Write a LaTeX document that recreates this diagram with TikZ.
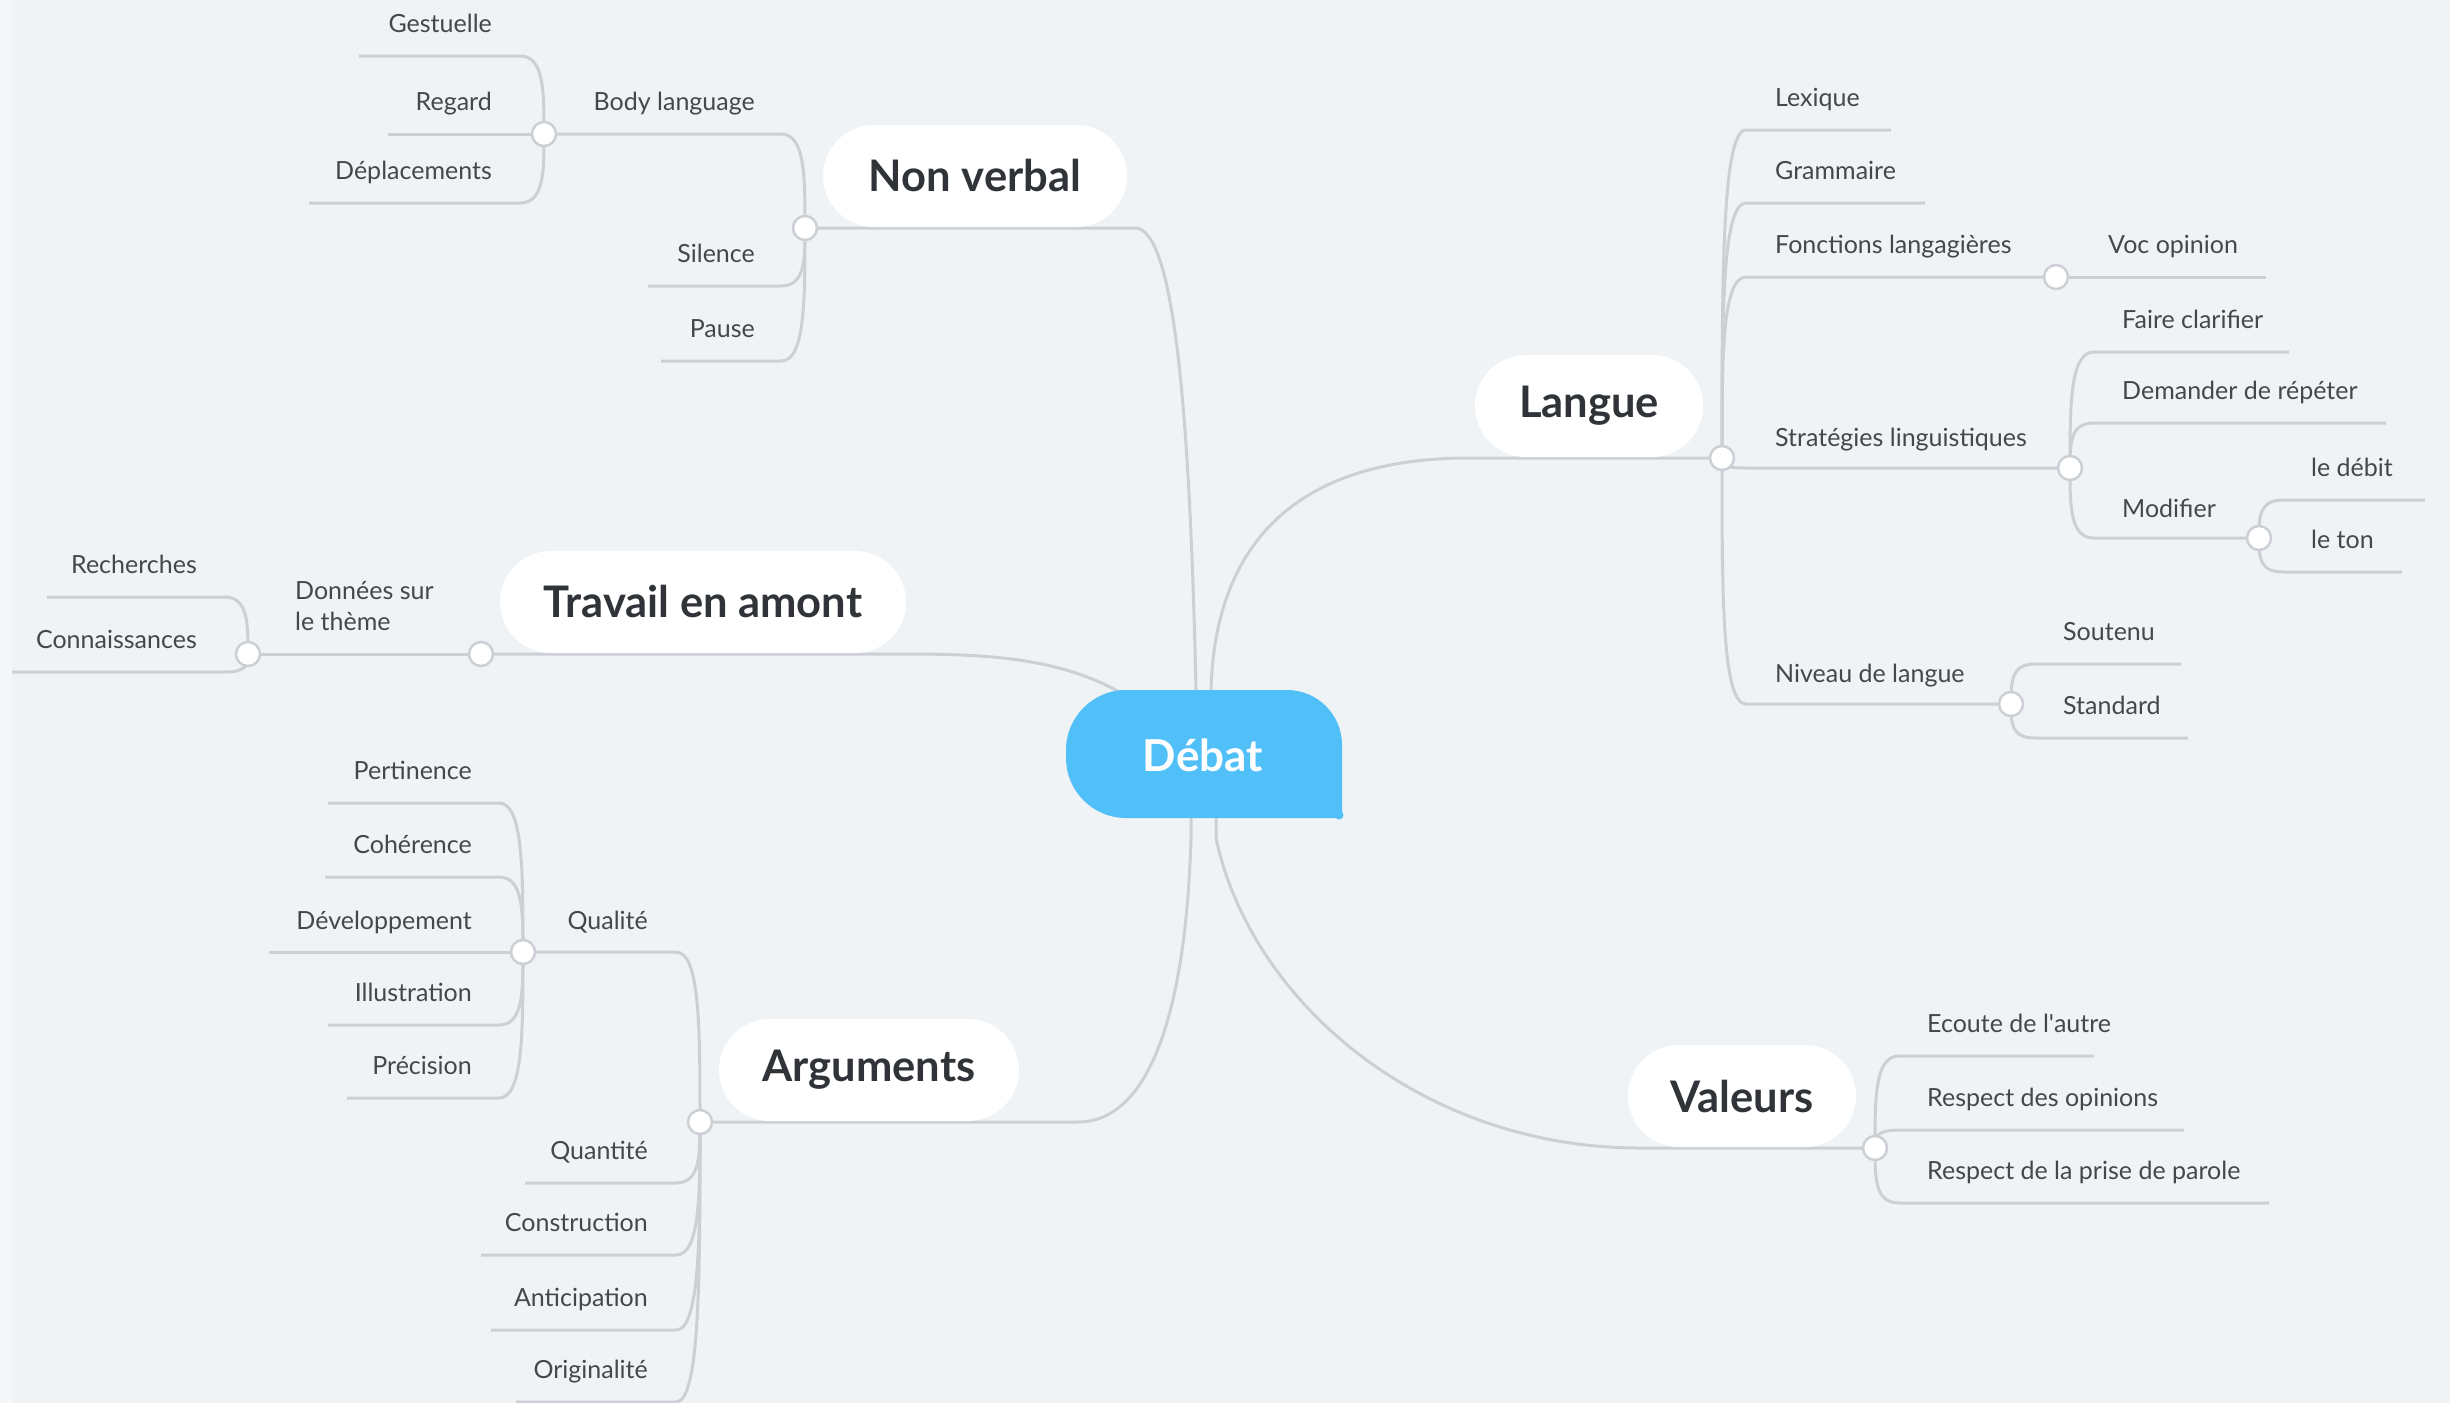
\documentclass[tikz,border=0pt]{standalone}
\usepackage{fontspec}
\setmainfont{Lato}
\usetikzlibrary{calc}
\pgfdeclarelayer{back}
\pgfdeclarelayer{lines}
\pgfsetlayers{back,lines,main}
\definecolor{bgc}{RGB}{239,243,246}
\definecolor{stripc}{RGB}{244,246,248}
\definecolor{lnc}{RGB}{204,208,212}
\definecolor{txc}{RGB}{68,72,77}
\definecolor{ttc}{RGB}{48,52,56}
\definecolor{blu}{RGB}{82,192,248}
\newcommand\branch[3]{\draw[conn] (#1.center) .. controls ($(#1.center)!0.55!(#1.center|-#2.center)$) and (#1.center|-#2.center) .. ($(#1.center|-#2.center)+(#3,0)$) -- (#2.center);}
\tikzset{
 conn/.style={draw=lnc, line width=3pt},
 jn/.style={circle, draw=lnc, fill=white, line width=2.5pt, minimum size=24pt, inner sep=0pt},
 topic/.style={fill=white, rounded corners=51pt, minimum height=102pt, inner sep=0pt, text=ttc, font=\fontsize{43.5}{52}\selectfont\bfseries},
 lbl/.style={inner sep=0pt, text=txc, font=\fontsize{25}{31}\selectfont},
 lblL/.style={lbl, anchor=base east},
 lblR/.style={lbl, anchor=base west},
}
\begin{document}
\begin{tikzpicture}[x=1pt,y=-1pt]
\useasboundingbox (0,0) rectangle (2450,1403);
\begin{pgfonlayer}{back}
\fill[bgc] (0,0) rectangle (2450,1403);
\fill[stripc] (0,0) rectangle (12,1403);
\end{pgfonlayer}

% central topic
\fill[blu] (1342,818) -- (1126,818) .. controls (1092.9,818) and (1066,791.1) .. (1066,758) -- (1066,750) .. controls (1066,716.9) and (1092.9,690) .. (1126,690) -- (1287,690) .. controls (1317.4,690) and (1342,714.6) .. (1342,745) -- cycle;
\fill[blu] (1339,815) circle (4.5);
\node[font=\fontsize{44}{52}\selectfont\bfseries, text=white] (deb) at (1203,755) {Débat};

% main topics
\node[topic, minimum width=304pt] (nv) at (975,176) {Non verbal};
\node[topic, minimum width=228pt] (la) at (1589,406) {Langue};
\node[topic, minimum width=406pt] (tr) at (703,602) {Travail en amont};
\node[topic, minimum width=300pt] (ar) at (869,1070) {Arguments};
\node[topic, minimum width=228pt] (va) at (1742,1096) {Valeurs};

% junctions
\node[jn] (nvj) at (805,228) {};
\node[jn] (blj) at (544,134) {};
\node[jn] (lj) at (1722,458) {};
\node[jn] (voj) at (2056,277) {};
\node[jn] (sj) at (2070,468) {};
\node[jn] (mj) at (2259,538) {};
\node[jn] (nj) at (2011,704) {};
\node[jn] (tj) at (481,654) {};
\node[jn] (dj) at (248,654) {};
\node[jn] (aj) at (700,1122) {};
\node[jn] (qj) at (523,952) {};
\node[jn] (vj) at (1875,1148) {};

% line ends
\coordinate (silE) at (648,286);
\coordinate (pauE) at (661,361);
\coordinate (gesE) at (359,56);
\coordinate (regE) at (388,134);
\coordinate (depE) at (309,203);
\coordinate (recE) at (47,597);
\coordinate (conE) at (12,672);
\coordinate (lexE) at (1891,130);
\coordinate (graE) at (1925,203);
\coordinate (vocE) at (2266,277);
\coordinate (fcE) at (2289,352);
\coordinate (drE) at (2386,423);
\coordinate (ldE) at (2425,500);
\coordinate (ltE) at (2402,572);
\coordinate (souE) at (2181,664);
\coordinate (staE) at (2188,738);
\coordinate (perE) at (328,803);
\coordinate (cohE) at (325,877);
\coordinate (devE) at (269,952);
\coordinate (illE) at (328,1025);
\coordinate (preE) at (347,1098);
\coordinate (quaE) at (525,1183);
\coordinate (cstE) at (481,1255);
\coordinate (antE) at (491,1330);
\coordinate (oriE) at (516,1402);
\coordinate (ecE) at (2094,1056);
\coordinate (roE) at (2184,1130);
\coordinate (rpE) at (2269,1203);

% labels
\node[lblL] (bl) at (755,110) {Body language};
\node[lblL] (sil) at (755,262) {Silence};
\node[lblL] (pau) at (755,337) {Pause};
\node[lblL] (ges) at (492,32) {Gestuelle};
\node[lblL] (reg) at (492,110) {Regard};
\node[lblL] (dep) at (492,179) {Déplacements};
\node[lbl, anchor=south west, align=left] (don) at (295,631) {Données sur\\le thème};
\node[lblL] (rec) at (197,573) {Recherches};
\node[lblL] (con) at (197,648) {Connaissances};
\node[lblR] (lex) at (1775,106) {Lexique};
\node[lblR] (gra) at (1775,179) {Grammaire};
\node[lblR] (fon) at (1775,253) {Fonctions langagières};
\node[lblR] (voc) at (2108,253) {Voc opinion};
\node[lblR] (str) at (1775,446) {Stratégies linguistiques};
\node[lblR] (fc) at (2122,328) {Faire clarifier};
\node[lblR] (dr) at (2122,399) {Demander de répéter};
\node[lblR] (mo) at (2122,517) {Modifier};
\node[lblR] (ld) at (2311,476) {le débit};
\node[lblR] (lt) at (2311,548) {le ton};
\node[lblR] (ni) at (1775,682) {Niveau de langue};
\node[lblR] (sou) at (2063,640) {Soutenu};
\node[lblR] (sta) at (2063,714) {Standard};
\node[lblL] (qu) at (648,929) {Qualité};
\node[lblL] (per) at (472,779) {Pertinence};
\node[lblL] (coh) at (472,853) {Cohérence};
\node[lblL] (dev) at (472,929) {Développement};
\node[lblL] (ill) at (472,1001) {Illustration};
\node[lblL] (pre) at (472,1074) {Précision};
\node[lblL] (qua) at (648,1159) {Quantité};
\node[lblL] (cst) at (648,1231) {Construction};
\node[lblL] (ant) at (648,1306) {Anticipation};
\node[lblL] (ori) at (648,1378) {Originalité};
\node[lblR] (ec) at (1927,1032) {Ecoute de l\textquotesingle autre};
\node[lblR] (ro) at (1927,1106) {Respect des opinions};
\node[lblR] (rp) at (1927,1179) {Respect de la prise de parole};

\begin{pgfonlayer}{lines}
% main connectors
\draw[conn] (deb.center) ++(-7,-20) -- ++(0,-45) .. controls (1190,420) and (1175,228) .. (1135,228) -- (nvj.center);
\draw[conn] (deb.center) ++(8,-20) -- ++(0,-45) .. controls (1215,540) and (1300,458) .. (1469,458) -- (lj.center);
\draw[conn] (deb.center) ++(-70,-55) .. controls (1070,660) and (1000,654) .. (906,654) -- (tj.center);
\draw[conn] (deb.center) ++(-12,20) -- ++(0,63) .. controls (1186,1010) and (1150,1122) .. (1078,1122) -- (aj.center);
\draw[conn] (deb.center) ++(13,20) -- ++(0,63) .. controls (1250,1000) and (1420,1148) .. (1640,1148) -- (vj.center);
% non verbal
\branch{nvj}{blj}{-24}
\branch{nvj}{silE}{-24}
\branch{nvj}{pauE}{-24}
\branch{blj}{gesE}{-24}
\branch{blj}{regE}{-24}
\branch{blj}{depE}{-24}
% travail
\branch{tj}{dj}{-24}
\branch{dj}{recE}{-24}
\branch{dj}{conE}{-24}
% langue
\branch{lj}{lexE}{24}
\branch{lj}{graE}{24}
\branch{lj}{voj}{24}
\branch{voj}{vocE}{24}
\branch{lj}{sj}{24}
\branch{sj}{fcE}{24}
\branch{sj}{drE}{24}
\branch{sj}{mj}{24}
\branch{mj}{ldE}{24}
\branch{mj}{ltE}{24}
\branch{lj}{nj}{24}
\branch{nj}{souE}{24}
\branch{nj}{staE}{24}
% arguments
\branch{aj}{qj}{-24}
\branch{qj}{perE}{-24}
\branch{qj}{cohE}{-24}
\branch{qj}{devE}{-24}
\branch{qj}{illE}{-24}
\branch{qj}{preE}{-24}
\branch{aj}{quaE}{-24}
\branch{aj}{cstE}{-24}
\branch{aj}{antE}{-24}
\branch{aj}{oriE}{-24}
% valeurs
\branch{vj}{ecE}{24}
\branch{vj}{roE}{24}
\branch{vj}{rpE}{24}
\end{pgfonlayer}
\end{tikzpicture}
\end{document}
